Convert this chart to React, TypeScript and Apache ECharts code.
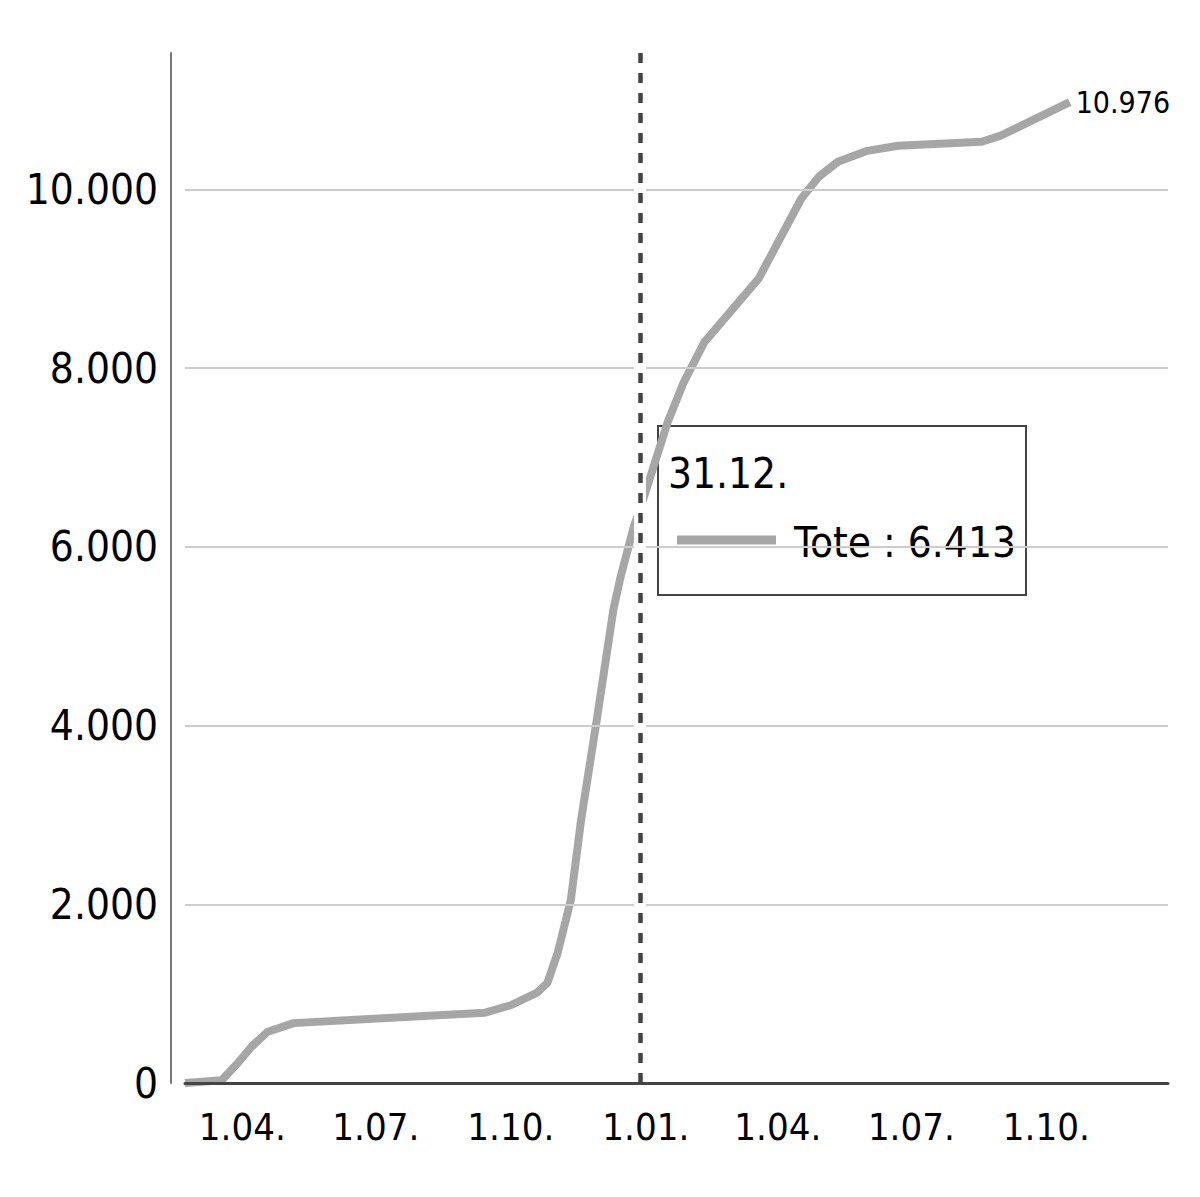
import React, { useEffect, useRef } from "react";
import * as echarts from "echarts";

const FONT = '"DejaVu Sans Condensed", "Liberation Sans Narrow", "DejaVu Sans", sans-serif';

const SERIES_NAME = "Tote";

const DATES = [
  "2020-02-25", "2020-03-21", "2020-04-01", "2020-04-10", "2020-04-21", "2020-05-09",
  "2020-09-16", "2020-10-04", "2020-10-22", "2020-10-29", "2020-11-05", "2020-11-14",
  "2020-11-21", "2020-12-02", "2020-12-13", "2020-12-18", "2020-12-27", "2020-12-31",
  "2021-01-19", "2021-01-30", "2021-02-13", "2021-03-22", "2021-04-20", "2021-05-02",
  "2021-05-15", "2021-06-04", "2021-06-25", "2021-08-21", "2021-09-03", "2021-10-20",
];

const DEATHS = [
  0, 30, 224, 400, 570, 670,
  785, 870, 1010, 1120, 1456, 2050,
  2947, 4100, 5300, 5670, 6230, 6413,
  7395, 7843, 8290, 9000, 9894, 10140,
  10308, 10430, 10487, 10532, 10600, 10976,
];

const X_TICK_DATES = ["2020-04-01", "2020-07-01", "2020-10-01", "2021-01-01", "2021-04-01", "2021-07-01", "2021-10-01"];
const X_TICK_LABELS = ["1.04.", "1.07.", "1.10.", "1.01.", "1.04.", "1.07.", "1.10."];

const Y_GRID_TICKS = [2000, 4000, 6000, 8000, 10000];

const X_MIN = "2020-02-25";
const X_MAX = "2021-12-26";

const MARK_DATE = "2020-12-31";
const MARK_TITLE = "31.12.";

function ts(s: string): number {
  const [y, m, d] = s.split("-").map(Number);
  return Date.UTC(y, m - 1, d);
}

function fmt(n: number): string {
  return Math.round(n).toString().replace(/\B(?=(\d{3})+(?!\d))/g, ".");
}

export default function App() {
  const ref = useRef<HTMLDivElement>(null);

  useEffect(() => {
    if (!ref.current) return;
    const chart = echarts.init(ref.current, null, { renderer: "svg" });

    const data = DATES.map((d, i) => [ts(d), DEATHS[i]]);
    const markIdx = DATES.indexOf(MARK_DATE);
    const markValue = DEATHS[markIdx];
    const tickTs = X_TICK_DATES.map(ts);

    const BOX_L = 657;
    const BOX_T = 425;
    const BOX_W = 368;
    const BOX_H = 169;

    const option: any = {
      animation: false,
      backgroundColor: "#ffffff",
      textStyle: { fontFamily: FONT },
      tooltip: { show: false },
      grid: {
        left: 185,
        right: 32,
        top: 53,
        bottom: 114,
        containLabel: false,
        outerBoundsMode: "none",
      },
      xAxis: {
        type: "value",
        min: ts(X_MIN),
        max: ts(X_MAX),
        axisLine: { show: true, lineStyle: { color: "#444444", width: 3 } },
        axisTick: { show: false },
        splitLine: { show: false },
        axisLabel: {
          customValues: tickTs,
          formatter: (v: number) => {
            const i = tickTs.indexOf(v);
            return i >= 0 ? X_TICK_LABELS[i] : "";
          },
          fontFamily: FONT,
          fontSize: 38,
          color: "#000000",
          margin: 25,
          padding: [0, 0, 0, 9],
          hideOverlap: false,
        },
        z: 5,
      },
      yAxis: {
        type: "value",
        min: 0,
        max: (e: any) => e.max * 1.05,
        interval: 2000,
        offset: 14,
        axisLine: { show: true, lineStyle: { color: "#777777", width: 2 } },
        axisTick: { show: false },
        splitLine: { show: false },
        axisLabel: {
          showMaxLabel: false,
          formatter: (v: number) => fmt(v),
          fontFamily: FONT,
          fontSize: 42,
          color: "#000000",
          margin: 13,
        },
      },
      series: [
        {
          type: "line",
          name: "grid",
          data: [],
          z: 1,
          silent: true,
          markLine: {
            silent: true,
            symbol: "none",
            label: { show: false },
            lineStyle: { color: "#cccccc", width: 2, type: "solid" },
            data: Y_GRID_TICKS.map((v) => ({ yAxis: v })),
          },
        },
        {
          type: "line",
          name: "halo",
          data: [],
          z: 2,
          silent: true,
          markLine: {
            silent: true,
            symbol: "none",
            label: { show: false },
            lineStyle: { color: "#ffffff", width: 12, type: "solid" },
            data: [{ xAxis: ts(MARK_DATE) }],
          },
        },
        {
          type: "line",
          name: SERIES_NAME,
          data,
          z: 3,
          showSymbol: false,
          symbol: "none",
          smooth: false,
          lineStyle: { color: "#a6a6a6", width: 8, cap: "butt", join: "round" },
          itemStyle: { color: "#a6a6a6" },
          endLabel: {
            show: true,
            formatter: (p: any) => fmt(p.value[1]),
            fontFamily: FONT,
            fontSize: 30,
            color: "#000000",
            distance: 6,
          },
        },
        {
          type: "line",
          name: "marker",
          data: [],
          z: 4,
          silent: true,
          markLine: {
            silent: true,
            symbol: "none",
            label: { show: false },
            lineStyle: { color: "#444444", width: 4.5, type: [10, 10] },
            data: [{ xAxis: ts(MARK_DATE) }],
          },
        },
      ],
      graphic: [
        {
          type: "group",
          left: BOX_L,
          top: BOX_T,
          z: 100,
          children: [
            {
              type: "rect",
              shape: { x: 0, y: 0, width: BOX_W, height: BOX_H },
              style: { fill: "#ffffff", stroke: "#444444", lineWidth: 2 },
            },
            {
              type: "text",
              x: 10,
              y: 47,
              style: {
                text: MARK_TITLE,
                fontFamily: FONT,
                fontSize: 42,
                fill: "#000000",
                verticalAlign: "middle",
                textAlign: "left",
              },
            },
            {
              type: "line",
              shape: { x1: 19, y1: 114, x2: 118, y2: 114 },
              style: { stroke: "#a6a6a6", lineWidth: 9 },
            },
            {
              type: "text",
              x: 136,
              y: 116,
              style: {
                text: `${SERIES_NAME} : ${fmt(markValue)}`,
                fontFamily: FONT,
                fontSize: 42,
                fill: "#000000",
                verticalAlign: "middle",
                textAlign: "left",
              },
            },
          ],
        },
      ],
    };

    chart.setOption(option);
    return () => {
      chart.dispose();
    };
  }, []);

  return (
    <div
      ref={ref}
      style={{ position: "absolute", left: 0, top: 0, width: 1200, height: 1197 }}
    />
  );
}
